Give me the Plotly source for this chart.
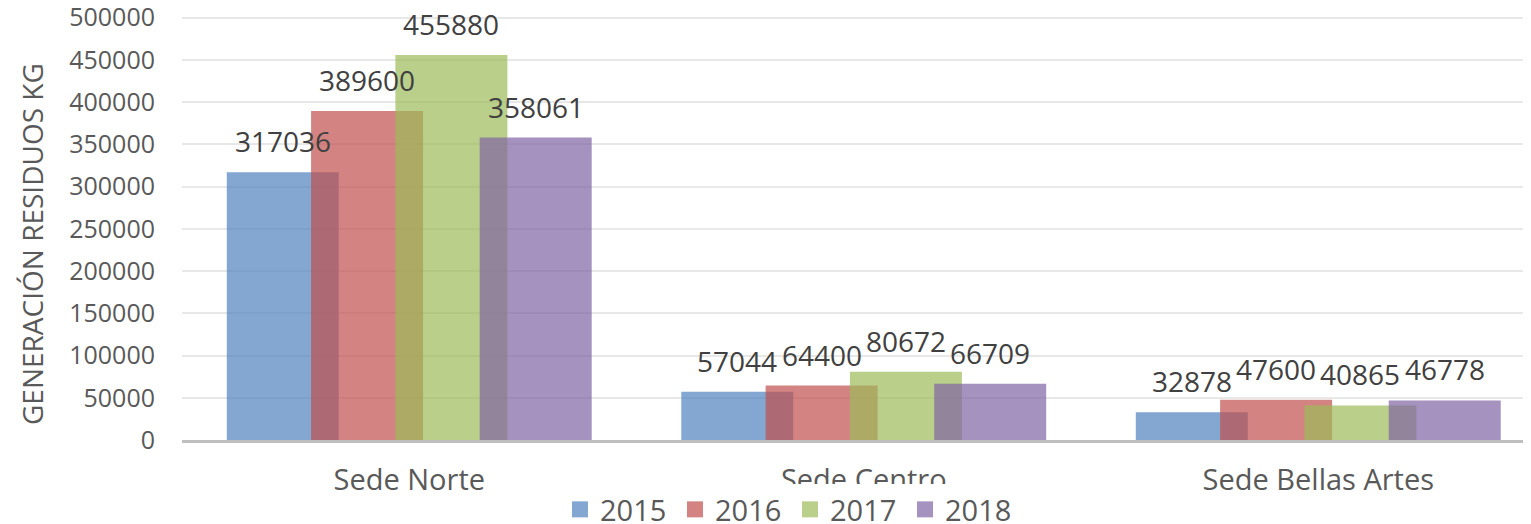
import plotly.graph_objects as go

categories = ["Sede Norte", "Sede Centro", "Sede Bellas Artes"]
years = ["2015", "2016", "2017", "2018"]
v2015 = [317036, 57044, 32878]
v2016 = [389600, 64400, 47600]
v2017 = [455880, 80672, 40865]
v2018 = [358061, 66709, 46778]
yticks = [0, 50000, 100000, 150000, 200000, 250000, 300000, 350000, 400000, 450000, 500000]

series = [v2015, v2016, v2017, v2018]
colors = ["rgba(79,129,189,0.7)", "rgba(192,80,77,0.7)", "rgba(155,187,89,0.7)", "rgba(128,100,162,0.7)"]

bar_w = 0.2464
step = 0.1855
left = -0.4015

# page body has an 8px margin; compensate so the plot lands where the reference has it
FIG_W, FIG_H = 1523, 516
ML, MT, MB = 174, 8, 84
plot_w = FIG_W - ML
plot_h = FIG_H - MT - MB

fig = go.Figure()
annotations = []
for k, (yr, vals, col) in enumerate(zip(years, series, colors)):
    off = left + k * step
    fig.add_trace(go.Bar(
        name=yr, x=categories, y=vals, offset=off, width=bar_w,
        marker=dict(color=col, line=dict(width=0)), showlegend=False,
    ))
    for i, v in enumerate(vals):
        annotations.append(dict(
            x=i + off + bar_w / 2, y=v, xref="x", yref="y",
            text=str(v), showarrow=False, yanchor="bottom", yshift=10,
            font=dict(family="Open Sans", size=28, color="#404040"),
        ))
# legend entries (square swatches)
for yr, col in zip(years, colors):
    fig.add_trace(go.Scatter(
        name=yr, x=[None], y=[None], mode="markers",
        marker=dict(symbol="square", size=18, color=col), showlegend=True,
    ))

annotations.append(dict(
    x=(24 - ML) / plot_w, y=(432 - 236) / plot_h, xref="paper", yref="paper",
    text="GENERACIÓN RESIDUOS KG",
    textangle=-90, showarrow=False, xanchor="center", yanchor="middle",
    font=dict(family="Open Sans", size=28, color="#595959"),
))

fig.update_layout(
    width=FIG_W, height=FIG_H,
    margin=dict(l=ML, r=0, t=MT, b=MB, autoexpand=False),
    barmode="overlay",
    plot_bgcolor="white", paper_bgcolor="white",
    annotations=annotations,
    showlegend=True,
    legend=dict(orientation="h", x=(560 - 8 - ML) / plot_w, xanchor="left",
                y=-44 / plot_h, yanchor="top",
                font=dict(family="Open Sans", size=29, color="#595959"),
                traceorder="normal", itemwidth=30, itemsizing="trace",
                entrywidth=70, entrywidthmode="pixels"),
    font=dict(family="Open Sans", color="#595959"),
)
fig.update_xaxes(
    type="category", range=[-0.5, 2.468], showgrid=False, automargin=False,
    showline=True, linecolor="#BFBFBF", linewidth=2.5,
    ticks="", ticklabelstandoff=12,
    tickfont=dict(family="Open Sans", size=29, color="#595959"),
)
fig.update_yaxes(
    range=[0, 502000], tickvals=yticks, ticktext=[str(t) for t in yticks],
    showgrid=True, gridcolor="#E8E8E8", gridwidth=1.5, zeroline=False, automargin=False,
    ticks="", ticklabelstandoff=26, ticklabeloverflow="allow",
    tickfont=dict(family="Open Sans", size=25, color="#595959"),
)

fig.write_html("out.html")
